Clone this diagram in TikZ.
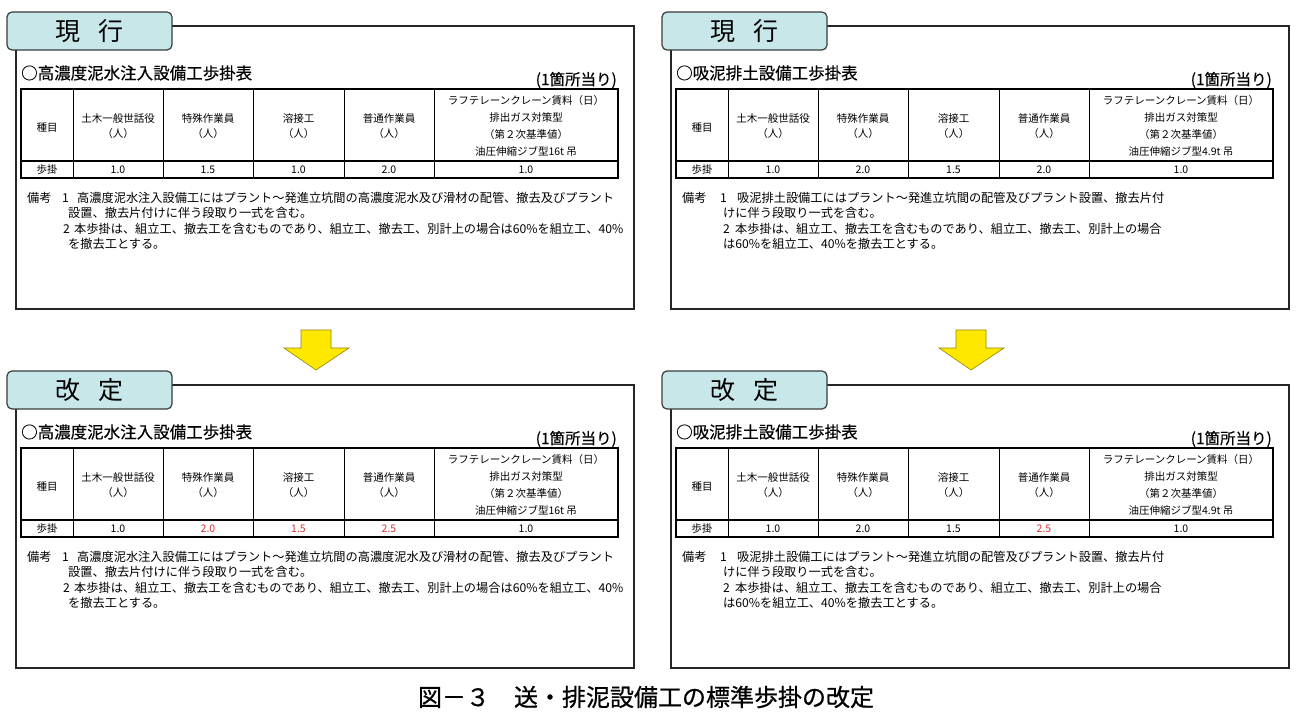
\documentclass[tikz,border=0pt]{standalone}
\usepackage{fontspec}
\setmainfont{Noto Sans CJK JP}
\newfontfamily\capfont[FakeBold=0.7]{Noto Sans CJK JP}
\newfontfamily\headfont[FakeBold=0.3]{Noto Sans CJK JP}
\usetikzlibrary{calc}
\definecolor{tabfill}{RGB}{200,231,233}
\definecolor{tabline}{RGB}{55,60,60}
\definecolor{arrowfill}{RGB}{255,232,0}
\definecolor{arrowline}{RGB}{150,130,0}
\definecolor{revred}{RGB}{215,50,50}
\tikzset{
	tabbox/.style={draw=tabline, line width=1.2pt, fill=tabfill, rounded corners=5pt, minimum width=165pt, minimum height=38pt, inner sep=0, font=\fontsize{25}{25}\selectfont},
	celltext/.style={inner sep=0, align=center, font=\fontsize{10.5}{15}\selectfont},
	notetext/.style={inner sep=0, anchor=west, font=\fontsize{12.2}{14}\selectfont},
	downarrow/.style={draw=arrowline, fill=arrowfill, line width=0.6pt},
}
\def\kakepanel(#1)[#2]#3#4#5{%
	\begin{scope}[shift={(#1)}]
		\draw[line width=1.1pt, color=black!85] (16,26) rectangle (634,309);
		\node[tabbox] (#2-tab) at (89.5,31) {#3};
		\node[anchor=west, inner sep=0, font=\headfont\fontsize{16.5}{18}\selectfont] (#2-title) at (21,73) {#4};
		\node[anchor=east, inner sep=0, font=\headfont\fontsize{15.5}{18}\selectfont] (#2-unit) at (617,80) {(1箇所当り)};
		\draw[line width=1.6pt] (21,89) rectangle (618,178);
		\draw[line width=1.6pt] (21,161) -- (618,161);
		\draw[line width=0.8pt] (73,89) -- (73,178) (163,89) -- (163,178) (253,89) -- (253,178) (344,89) -- (344,178) (434,89) -- (434,178);
		\node[celltext] (#2-h1) at (47,128) {種目};
		\node[celltext] (#2-h2) at (118,126) {土木一般世話役\\（人）};
		\node[celltext] (#2-h3) at (208,126) {特殊作業員\\（人）};
		\node[celltext] (#2-h4) at (298.5,126) {溶接工\\（人）};
		\node[celltext] (#2-h5) at (389,126) {普通作業員\\（人）};
		\node[celltext, font=\fontsize{10.5}{17}\selectfont] (#2-h6) at (526,126) {ラフテレーンクレーン賃料（日）\\排出ガス対策型\\（第２次基準値）\\#5};
		\node[celltext] (#2-r1) at (47,170) {歩掛};
	\end{scope}}

\begin{document}
\begin{tikzpicture}[x=1pt, y=-1pt]
		%%%%% START %%%%%
		
		\useasboundingbox[fill=white] (0,0) rectangle (1297,719);
		
		%%% current (top)
		\kakepanel(0,0)[tl]{現\hspace{18pt}行}{○高濃度泥水注入設備工歩掛表}{油圧伸縮ジブ型16t 吊}
		\kakepanel(655,0)[tr]{現\hspace{18pt}行}{○吸泥排土設備工歩掛表}{油圧伸縮ジブ型4.9t 吊}
		
		%%% revised (bottom)
		\kakepanel(0,359)[bl]{改\hspace{18pt}定}{○高濃度泥水注入設備工歩掛表}{油圧伸縮ジブ型16t 吊}
		\kakepanel(655,359)[br]{改\hspace{18pt}定}{○吸泥排土設備工歩掛表}{油圧伸縮ジブ型4.9t 吊}
		
		%%% values
		\node[celltext] (tlv1) at (118,170) {1.0};
		\node[celltext] (tlv2) at (208,170) {1.5};
		\node[celltext] (tlv3) at (298.5,170) {1.0};
		\node[celltext] (tlv4) at (389,170) {2.0};
		\node[celltext] (tlv5) at (526,170) {1.0};
		
		\node[celltext] (trv1) at (773,170) {1.0};
		\node[celltext] (trv2) at (863,170) {2.0};
		\node[celltext] (trv3) at (953.5,170) {1.5};
		\node[celltext] (trv4) at (1044,170) {2.0};
		\node[celltext] (trv5) at (1181,170) {1.0};
		
		\node[celltext] (blv1) at (118,529) {1.0};
		\node[celltext, color=revred] (blv2) at (208,529) {2.0};
		\node[celltext, color=revred] (blv3) at (298.5,529) {1.5};
		\node[celltext, color=revred] (blv4) at (389,529) {2.5};
		\node[celltext] (blv5) at (526,529) {1.0};
		
		\node[celltext] (brv1) at (773,529) {1.0};
		\node[celltext] (brv2) at (863,529) {2.0};
		\node[celltext] (brv3) at (953.5,529) {1.5};
		\node[celltext, color=revred] (brv4) at (1044,529) {2.5};
		\node[celltext] (brv5) at (1181,529) {1.0};
		
		%%% notes
		\node[notetext] (tln0) at (27,198) {備考};
		\node[notetext] (tln1) at (62,198) {1};
		\node[notetext] (tln2) at (77,198) {高濃度泥水注入設備工にはプラント～発進立坑間の高濃度泥水及び滑材の配管、撤去及びプラント};
		\node[notetext] (tln3) at (68,213) {設置、撤去片付けに伴う段取り一式を含む。};
		\node[notetext] (tln4) at (63,229) {2};
		\node[notetext] (tln5) at (74,229) {本歩掛は、組立工、撤去工を含むものであり、組立工、撤去工、別計上の場合は60\%を組立工、40\%};
		\node[notetext] (tln6) at (68,244) {を撤去工とする。};
		
		\node[notetext] (trn0) at (682,198) {備考};
		\node[notetext] (trn1) at (720,198) {1};
		\node[notetext] (trn2) at (737,198) {吸泥排土設備工にはプラント～発進立坑間の配管及びプラント設置、撤去片付};
		\node[notetext] (trn3) at (723,213) {けに伴う段取り一式を含む。};
		\node[notetext] (trn4) at (723,229) {2};
		\node[notetext] (trn5) at (735,229) {本歩掛は、組立工、撤去工を含むものであり、組立工、撤去工、別計上の場合};
		\node[notetext] (trn6) at (723,244) {は60\%を組立工、40\%を撤去工とする。};
		
		\node[notetext] (bln0) at (27,557) {備考};
		\node[notetext] (bln1) at (62,557) {1};
		\node[notetext] (bln2) at (77,557) {高濃度泥水注入設備工にはプラント～発進立坑間の高濃度泥水及び滑材の配管、撤去及びプラント};
		\node[notetext] (bln3) at (68,572) {設置、撤去片付けに伴う段取り一式を含む。};
		\node[notetext] (bln4) at (63,588) {2};
		\node[notetext] (bln5) at (74,588) {本歩掛は、組立工、撤去工を含むものであり、組立工、撤去工、別計上の場合は60\%を組立工、40\%};
		\node[notetext] (bln6) at (68,603) {を撤去工とする。};
		
		\node[notetext] (brn0) at (682,557) {備考};
		\node[notetext] (brn1) at (720,557) {1};
		\node[notetext] (brn2) at (737,557) {吸泥排土設備工にはプラント～発進立坑間の配管及びプラント設置、撤去片付};
		\node[notetext] (brn3) at (723,572) {けに伴う段取り一式を含む。};
		\node[notetext] (brn4) at (723,588) {2};
		\node[notetext] (brn5) at (735,588) {本歩掛は、組立工、撤去工を含むものであり、組立工、撤去工、別計上の場合};
		\node[notetext] (brn6) at (723,603) {は60\%を組立工、40\%を撤去工とする。};
		
		%%% arrows
		\draw[downarrow] (301,330) -- (331,330) -- (331,348) -- (349,348) -- (316,370) -- (284,348) -- (301,348) -- cycle;
		\draw[downarrow] (956,330) -- (986,330) -- (986,348) -- (1004,348) -- (971,370) -- (939,348) -- (956,348) -- cycle;
		
		%%% caption
		\node[inner sep=0, font=\capfont\fontsize{24}{24}\selectfont] (caption) at (646,697) {図－３　送・排泥設備工の標準歩掛の改定};
		
		%%%%% END %%%%%
	\end{tikzpicture}
\end{document}
